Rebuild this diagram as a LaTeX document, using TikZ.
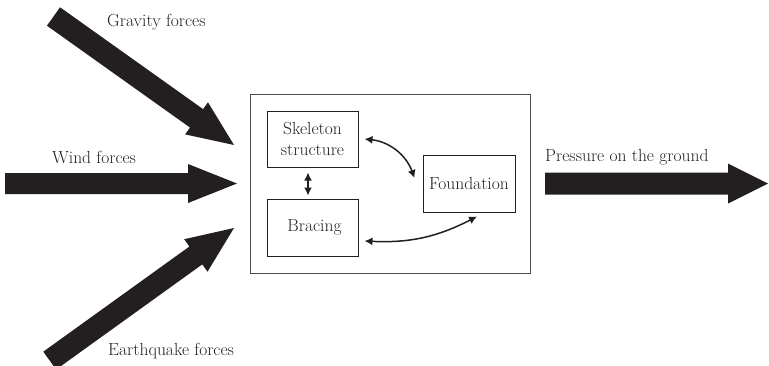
\documentclass[tikz,border=0pt]{standalone}
\usepackage{fontspec}
\usetikzlibrary{calc,arrows.meta}
\definecolor{ink}{RGB}{35,31,32}
\newcommand\fatarrow[5]{% tail, tip, shaft half width, head half width, head length
  \coordinate (fa-n) at ($(#2)!#5!(#1)$);
  \fill[ink] ($(#1)!#3!90:(#2)$) -- ($(fa-n)!#3!90:(#2)$) -- ($(fa-n)!#4!90:(#2)$) -- (#2)
    -- ($(fa-n)!#4!-90:(#2)$) -- ($(fa-n)!#3!-90:(#2)$) -- ($(#1)!#3!-90:(#2)$) -- cycle;
}
\begin{document}
\begin{tikzpicture}[x=1pt,y=-1pt,
  lbl/.style={font=\fontsize{17.5}{21}\selectfont, inner sep=0pt, anchor=base west, text=ink},
  box/.style={draw=ink, line width=1pt, minimum width=91pt, minimum height=56pt, inner sep=0pt,
    font=\fontsize{17.5}{21}\selectfont, align=center, text=ink},
  frame/.style={draw=black!70, line width=0.9pt, minimum width=280pt, minimum height=179pt, inner sep=0pt},
  link/.style={draw=ink, line width=1.5pt, {Latex[length=8pt,width=8pt]}-{Latex[length=8pt,width=8pt]}}]
\useasboundingbox (0,0) rectangle (769,365);
\clip (0,0) rectangle (769,365);

% frame and boxes
\node[frame] (sys) at (390,183.5) {};
\node[box] (sk) at (312.5,139) {Skeleton\\structure};
\node[box, minimum height=57pt] (br) at (312.5,227.5) {\hspace*{4pt}Bracing};
\node[box, minimum width=92pt, minimum height=57pt] (fo) at (469,183.5) {\raisebox{-3pt}{Foundation}};

% links
\draw[link] ([xshift=6pt]sk.east) to[bend left=32] ([xshift=-8pt,yshift=5.5pt]fo.west);
\draw[link] ([xshift=6pt,yshift=-13.5pt]br.east) to[bend right=15] ([xshift=8pt,yshift=-4pt]fo.south);
\draw[link] ([xshift=-4.5pt,yshift=-5pt]sk.south) -- ([xshift=-4.5pt,yshift=3pt]br.north);

% big force arrows
\coordinate (gT) at (53.5,16.5);  \coordinate (gH) at (234,145);
\coordinate (wT) at (5,183.5);    \coordinate (wH) at (237,183.5);
\coordinate (eT) at (49.7,360.6); \coordinate (eH) at (234,228);
\coordinate (pT) at (545,183.5);  \coordinate (pH) at (768,183.5);
\fatarrow{gT}{gH}{11.3pt}{19.7pt}{46pt}
\fatarrow{wT}{wH}{10.5pt}{19.5pt}{49pt}
\fatarrow{eT}{eH}{11pt}{20pt}{47pt}
\fatarrow{pT}{pH}{11pt}{20pt}{40pt}

% labels
\node[lbl] (gl) at (107,26) {Gravity forces};
\node[lbl] (wl) at (52,163) {Wind forces};
\node[lbl] (el) at (108,355) {Earthquake forces};
\node[lbl] (pl) at (545,161) {Pressure on the ground};
\end{tikzpicture}
\end{document}
